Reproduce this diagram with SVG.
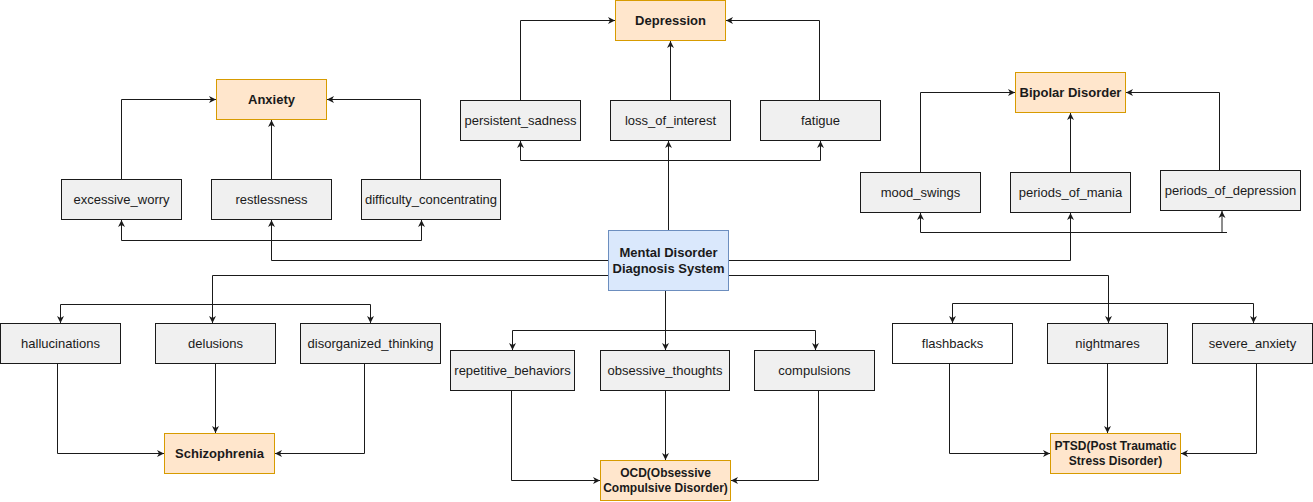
<svg xmlns="http://www.w3.org/2000/svg" width="1313" height="502" viewBox="0 0 1313 502">
<style>
  .sym rect{fill:#f0f0f0;stroke:#1a1a1a;stroke-width:1}
  .sym.w rect{fill:#ffffff}
  .dis rect{fill:#ffe6cc;stroke:#d79b00;stroke-width:1}
  .root rect{fill:#dae8fc;stroke:#6c8ebf;stroke-width:1}
  text{font-family:"Liberation Sans",Arial,sans-serif;font-size:13px;fill:#1a1a1a;text-anchor:middle;dominant-baseline:central}
  .dis text,.root text{font-weight:bold}
  .dis text.s{font-size:12px}
  #connectors path{fill:none;stroke:#1a1a1a;stroke-width:1}
  #connectors path.a{marker-end:url(#arr)}
</style>
<defs>
  <marker id="arr" markerUnits="userSpaceOnUse" markerWidth="10" markerHeight="10" refX="7" refY="4" orient="auto">
    <path d="M0,0.5 L7,4 L0,7.5 L2,4 z" fill="#1a1a1a"/>
  </marker>
</defs>
<rect width="1313" height="502" fill="#ffffff"/>
<g id="connectors">
  <!-- Anxiety -->
  <path d="M608.5 260.5 H271.5 V220" class="a"/>
  <path d="M121.5 240.5 H421.5"/>
  <path d="M121.5 240.5 V220" class="a"/>
  <path d="M421.5 240.5 V220" class="a"/>
  <path d="M121.5 179.5 V99.5 H216" class="a"/>
  <path d="M271.5 179.5 V120" class="a"/>
  <path d="M420.5 179.5 V99.5 H327" class="a"/>
  <!-- Depression -->
  <path d="M668.5 230.5 V141" class="a"/>
  <path d="M520.5 160.5 H820.5"/>
  <path d="M520.5 160.5 V141" class="a"/>
  <path d="M820.5 160.5 V141" class="a"/>
  <path d="M520.5 100.5 V20.5 H615" class="a"/>
  <path d="M670.5 100.5 V41" class="a"/>
  <path d="M819.5 100.5 V20.5 H726" class="a"/>
  <!-- Bipolar -->
  <path d="M728.5 260.5 H1070.5 V213" class="a"/>
  <path d="M920.5 232.5 H1227"/>
  <path d="M920.5 232.5 V213" class="a"/>
  <path d="M1222 232.5 V211" class="a"/>
  <path d="M920.5 172.5 V92.5 H1015" class="a"/>
  <path d="M1070.5 172.5 V113" class="a"/>
  <path d="M1219.5 170.5 V92.5 H1126" class="a"/>
  <!-- Schizophrenia -->
  <path d="M608.5 275.5 H212.5 V323" class="a"/>
  <path d="M60.5 304.5 H370.5"/>
  <path d="M60.5 304.5 V323" class="a"/>
  <path d="M370.5 304.5 V323" class="a"/>
  <path d="M57.5 363.5 V453.5 H164" class="a"/>
  <path d="M215.5 363.5 V433" class="a"/>
  <path d="M364.5 363.5 V453.5 H275" class="a"/>
  <!-- OCD -->
  <path d="M665.5 290.5 V350" class="a"/>
  <path d="M512.5 330.5 H815.5"/>
  <path d="M512.5 330.5 V350" class="a"/>
  <path d="M815.5 330.5 V350" class="a"/>
  <path d="M511.5 390.5 V480.5 H600" class="a"/>
  <path d="M665.5 390.5 V460" class="a"/>
  <path d="M818.5 390.5 V480.5 H731" class="a"/>
  <!-- PTSD -->
  <path d="M728.5 275.5 H1108.5 V323" class="a"/>
  <path d="M952.5 303.5 H1253.5"/>
  <path d="M952.5 303.5 V323" class="a"/>
  <path d="M1253.5 303.5 V323" class="a"/>
  <path d="M949.5 363.5 V453.5 H1050" class="a"/>
  <path d="M1107.5 363.5 V433" class="a"/>
  <path d="M1256.5 363.5 V453.5 H1181" class="a"/>
</g>

<g id="root" class="root"><rect x="608.5" y="230.5" width="120" height="60"/><text x="668.5" y="252.5">Mental Disorder</text><text x="668.5" y="268.5">Diagnosis System</text></g>

<g id="anxiety" class="dis"><rect x="216.5" y="79.5" width="110" height="40"/><text x="271.5" y="99.5">Anxiety</text></g>
<g id="excessive_worry" class="sym"><rect x="61.5" y="179.5" width="120" height="40"/><text x="121.5" y="199.5">excessive_worry</text></g>
<g id="restlessness" class="sym"><rect x="211.5" y="179.5" width="120" height="40"/><text x="271.5" y="199.5">restlessness</text></g>
<g id="difficulty_concentrating" class="sym"><rect x="361.5" y="179.5" width="139" height="40"/><text x="431" y="199.5">difficulty_concentrating</text></g>

<g id="depression" class="dis"><rect x="615.5" y="0.5" width="110" height="40"/><text x="670.5" y="20.5">Depression</text></g>
<g id="persistent_sadness" class="sym"><rect x="460.5" y="100.5" width="120" height="40"/><text x="520.5" y="120.5">persistent_sadness</text></g>
<g id="loss_of_interest" class="sym"><rect x="610.5" y="100.5" width="120" height="40"/><text x="670.5" y="120.5">loss_of_interest</text></g>
<g id="fatigue" class="sym"><rect x="760.5" y="100.5" width="120" height="40"/><text x="820.5" y="120.5">fatigue</text></g>

<g id="bipolar" class="dis"><rect x="1015.5" y="72.5" width="110" height="40"/><text x="1070.5" y="92.5">Bipolar Disorder</text></g>
<g id="mood_swings" class="sym"><rect x="860.5" y="172.5" width="120" height="40"/><text x="920.5" y="192.5">mood_swings</text></g>
<g id="periods_of_mania" class="sym"><rect x="1010.5" y="172.5" width="120" height="40"/><text x="1070.5" y="192.5">periods_of_mania</text></g>
<g id="periods_of_depression" class="sym"><rect x="1160.5" y="170.5" width="140" height="40"/><text x="1230.5" y="190.5">periods_of_depression</text></g>

<g id="hallucinations" class="sym"><rect x="0.5" y="323.5" width="120" height="40"/><text x="60.5" y="343.5">hallucinations</text></g>
<g id="delusions" class="sym"><rect x="155.5" y="323.5" width="120" height="40"/><text x="215.5" y="343.5">delusions</text></g>
<g id="disorganized_thinking" class="sym"><rect x="300.5" y="323.5" width="140" height="40"/><text x="370.5" y="343.5">disorganized_thinking</text></g>
<g id="schizophrenia" class="dis"><rect x="164.5" y="433.5" width="110" height="40"/><text x="219.5" y="453.5">Schizophrenia</text></g>

<g id="repetitive_behaviors" class="sym"><rect x="450.5" y="350.5" width="124" height="40"/><text x="512.5" y="370.5">repetitive_behaviors</text></g>
<g id="obsessive_thoughts" class="sym"><rect x="600.5" y="350.5" width="129" height="40"/><text x="665" y="370.5">obsessive_thoughts</text></g>
<g id="compulsions" class="sym"><rect x="754.5" y="350.5" width="120" height="40"/><text x="814.5" y="370.5">compulsions</text></g>
<g id="ocd" class="dis"><rect x="600.5" y="460.5" width="130" height="40"/><text class="s" x="665.5" y="473">OCD(Obsessive</text><text class="s" x="665.5" y="488">Compulsive Disorder)</text></g>

<g id="flashbacks" class="sym w"><rect x="892.5" y="323.5" width="120" height="40"/><text x="952.5" y="343.5">flashbacks</text></g>
<g id="nightmares" class="sym"><rect x="1047.5" y="323.5" width="120" height="40"/><text x="1107.5" y="343.5">nightmares</text></g>
<g id="severe_anxiety" class="sym"><rect x="1192.5" y="323.5" width="120" height="40"/><text x="1252.5" y="343.5">severe_anxiety</text></g>
<g id="ptsd" class="dis"><rect x="1050.5" y="433.5" width="130" height="40"/><text class="s" x="1115.5" y="446">PTSD(Post Traumatic</text><text class="s" x="1115.5" y="461">Stress Disorder)</text></g>
</svg>
